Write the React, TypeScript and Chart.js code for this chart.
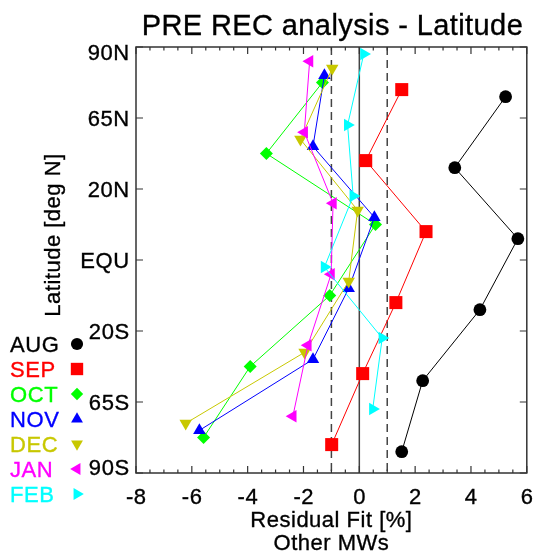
import React, { useEffect, useRef } from 'react';
import { Chart, registerables } from 'chart.js';

Chart.register(...registerables);

// ---------- data ----------
const months = ['AUG', 'SEP', 'OCT', 'NOV', 'DEC', 'JAN', 'FEB'];
const monthColors = ['#000000', '#ff0000', '#00ff00', '#0000ff', '#c8c800', '#ff00ff', '#00ffff'];
const monthPointStyles = ['circle', 'rect', 'rectRot', 'triangle', 'triangle', 'triangle', 'triangle'];
const monthPointRotations = [0, 0, 0, 0, 180, -90, 90];
const monthPointRadii = [6.4, 9.2, 6.5, 7.2, 7.2, 7.2, 7.2];

// latitude axis: 0 = 90N (top) ... 6 = 90S (bottom)
const latTickLabels = ['90N', '65N', '20N', 'EQU', '20S', '65S', '90S'];
const latTickValues = [0, 1, 2, 3, 4, 5, 6];
// each latitude band starts at these axis positions
const latBandStarts = [0, 1, 2, 3, 4, 5];
// position of each month inside a band
const monthBandOffsets = [0.7, 0.6, 0.5, 0.4, 0.3, 0.2, 0.1];

// residual fit [%] per latitude band (north to south)
const augValues = [5.24, 3.42, 5.68, 4.32, 2.27, 1.52];
const sepValues = [1.52, 0.23, 2.39, 1.31, 0.12, -0.99];
const octValues = [-1.32, -3.33, 0.58, -1.06, -3.91, -5.58];
const novValues = [-1.25, -1.66, 0.54, -0.38, -1.66, -5.73];
const decValues = [-0.97, -2.11, -0.06, -0.38, -1.96, -6.22];
const janValues = [-1.78, -1.97, -0.94, -1.01, -1.84, -2.38];
const febValues = [0.16, -0.42, -0.22, -1.25, 0.82, 0.48];
const seriesValues = [augValues, sepValues, octValues, novValues, decValues, janValues, febValues];

const xMin = -8;
const xMax = 6;
const xMajorTicks = [-8, -6, -4, -2, 0, 2, 4, 6];
const xMinorStep = 0.5;
const dashedRefLines = [-1, 1];
const solidRefLines = [0];

const titleText = 'PRE REC analysis - Latitude';
const yTitleText = 'Latitude [deg N]';
const xTitleLines = ['Residual Fit [%]', 'Other MWs'];

const FONT = '"Liberation Sans", Arial, Helvetica, sans-serif';

function drawMarker(ctx: CanvasRenderingContext2D, style: string, rotation: number, radius: number, x: number, y: number, color: string) {
  ctx.save();
  ctx.fillStyle = color;
  ctx.beginPath();
  const rad = (rotation * Math.PI) / 180;
  if (style === 'circle') {
    ctx.arc(x, y, radius, 0, Math.PI * 2);
  } else if (style === 'rect') {
    const s = Math.SQRT1_2 * radius;
    ctx.rect(x - s, y - s, 2 * s, 2 * s);
  } else if (style === 'rectRot') {
    ctx.moveTo(x - radius, y);
    ctx.lineTo(x, y - radius);
    ctx.lineTo(x + radius, y);
    ctx.lineTo(x, y + radius);
    ctx.closePath();
  } else {
    let r = rad;
    ctx.moveTo(x + Math.sin(r) * radius, y - Math.cos(r) * radius);
    r += (2 * Math.PI) / 3;
    ctx.lineTo(x + Math.sin(r) * radius, y - Math.cos(r) * radius);
    r += (2 * Math.PI) / 3;
    ctx.lineTo(x + Math.sin(r) * radius, y - Math.cos(r) * radius);
    ctx.closePath();
  }
  ctx.fill();
  ctx.restore();
}

function fillBold(ctx: CanvasRenderingContext2D, text: string, x: number, y: number) {
  // slight stroke to mimic the heavier raster text of the original
  ctx.lineWidth = 0.35;
  ctx.strokeStyle = ctx.fillStyle as string;
  ctx.fillText(text, x, y);
  ctx.strokeText(text, x, y);
}

const decorPlugin = {
  id: 'decor',
  beforeDatasetsDraw(chart: any) {
    const { ctx, chartArea, scales } = chart;
    const { top, bottom } = chartArea;
    const x = scales.x;
    ctx.save();
    ctx.strokeStyle = '#444444';
    ctx.lineWidth = 1.5;
    dashedRefLines.forEach((v) => {
      const px = x.getPixelForValue(v);
      ctx.beginPath();
      ctx.setLineDash([8, 5]);
      ctx.moveTo(px, top);
      ctx.lineTo(px, bottom);
      ctx.stroke();
    });
    solidRefLines.forEach((v) => {
      const px = x.getPixelForValue(v);
      ctx.beginPath();
      ctx.setLineDash([]);
      ctx.moveTo(px, top);
      ctx.lineTo(px, bottom);
      ctx.stroke();
    });
    ctx.restore();
  },
  afterDraw(chart: any) {
    const { ctx, chartArea, scales } = chart;
    const { left, right, top, bottom } = chartArea;
    const x = scales.x;
    const y = scales.y;
    ctx.save();
    // frame
    ctx.strokeStyle = '#333333';
    ctx.lineWidth = 1.5;
    ctx.setLineDash([]);
    ctx.strokeRect(left, top, right - left, bottom - top);

    // x ticks (inward, bottom and top)
    ctx.lineWidth = 1.2;
    const nMinor = Math.round((xMax - xMin) / xMinorStep);
    for (let i = 0; i <= nMinor; i++) {
      const v = xMin + i * xMinorStep;
      const px = x.getPixelForValue(v);
      const major = xMajorTicks.includes(v);
      const len = major ? 7 : 3.5;
      ctx.beginPath();
      ctx.moveTo(px, bottom);
      ctx.lineTo(px, bottom - len);
      ctx.moveTo(px, top);
      ctx.lineTo(px, top + len);
      ctx.stroke();
    }
    // y ticks (inward, left and right)
    latTickValues.forEach((v) => {
      const py = y.getPixelForValue(v);
      ctx.beginPath();
      ctx.moveTo(left, py);
      ctx.lineTo(left + 7, py);
      ctx.moveTo(right, py);
      ctx.lineTo(right - 7, py);
      ctx.stroke();
    });

    ctx.fillStyle = '#000000';
    // y tick labels
    ctx.font = `22px ${FONT}`;
    (ctx as any).letterSpacing = '0.6px';
    ctx.textAlign = 'right';
    ctx.textBaseline = 'alphabetic';
    latTickValues.forEach((v, i) => {
      let py = y.getPixelForValue(v);
      py = Math.min(Math.max(py, top + 5), bottom - 6);
      fillBold(ctx, latTickLabels[i], 129.8, py + 7.6);
    });
    // x tick labels
    ctx.textAlign = 'center';
    xMajorTicks.forEach((v) => {
      const px = x.getPixelForValue(v);
      fillBold(ctx, String(v), px + 0.3, 504);
    });

    // x title
    ctx.font = `22px ${FONT}`;
    (ctx as any).letterSpacing = '0.5px';
    const cx = (left + right) / 2;
    fillBold(ctx, xTitleLines[0], cx, 527);
    fillBold(ctx, xTitleLines[1], cx, 550);

    // y title
    ctx.save();
    ctx.translate(60, 235);
    ctx.rotate(-Math.PI / 2);
    ctx.textAlign = 'center';
    fillBold(ctx, yTitleText, 0, 0);
    ctx.restore();

    // title
    ctx.font = `29px ${FONT}`;
    (ctx as any).letterSpacing = '0.4px';
    ctx.textAlign = 'center';
    fillBold(ctx, titleText, cx + 1, 35);

    // legend
    ctx.font = `22px ${FONT}`;
    (ctx as any).letterSpacing = '0.6px';
    ctx.textAlign = 'left';
    months.forEach((m, i) => {
      const cy = 344 + 25 * i;
      ctx.fillStyle = monthColors[i];
      fillBold(ctx, m, 10, cy + 8);
      drawMarker(ctx, monthPointStyles[i], monthPointRotations[i], monthPointRadii[i] * 0.95, 77, cy, monthColors[i]);
    });
    ctx.restore();
  },
};

export default function App() {
  const canvasRef = useRef<HTMLCanvasElement | null>(null);

  useEffect(() => {
    const canvas = canvasRef.current;
    if (!canvas) return;
    const datasets = months.map((m, i) => ({
      label: m,
      data: seriesValues[i].map((v, b) => ({ x: v, y: latBandStarts[b] + monthBandOffsets[i] })),
      borderColor: monthColors[i],
      backgroundColor: monthColors[i],
      borderWidth: 1,
      pointStyle: monthPointStyles[i],
      pointRotation: monthPointRotations[i],
      pointRadius: monthPointRadii[i],
      pointHoverRadius: monthPointRadii[i],
      pointBorderWidth: 0,
      pointBackgroundColor: monthColors[i],
      showLine: true,
      fill: false,
      tension: 0,
      clip: false as any,
      order: months.length - i,
    }));

    const chart = new Chart(canvas, {
      type: 'line',
      data: { datasets },
      options: {
        responsive: false,
        animation: false,
        devicePixelRatio: 1,
        events: [],
        layout: { padding: { left: 136, right: 9, top: 47, bottom: 87 } },
        plugins: {
          legend: { display: false },
          title: { display: false },
          tooltip: { enabled: false },
        },
        scales: {
          x: { type: 'linear', min: xMin, max: xMax, display: false },
          y: { type: 'linear', min: 0, max: 6, reverse: true, display: false },
        },
      },
      plugins: [decorPlugin],
    });
    return () => chart.destroy();
  }, []);

  return (
    <div style={{ position: 'absolute', left: 0, top: 0, width: 536, height: 560, background: '#ffffff' }}>
      <canvas ref={canvasRef} width={536} height={560} style={{ display: 'block' }} />
    </div>
  );
}
